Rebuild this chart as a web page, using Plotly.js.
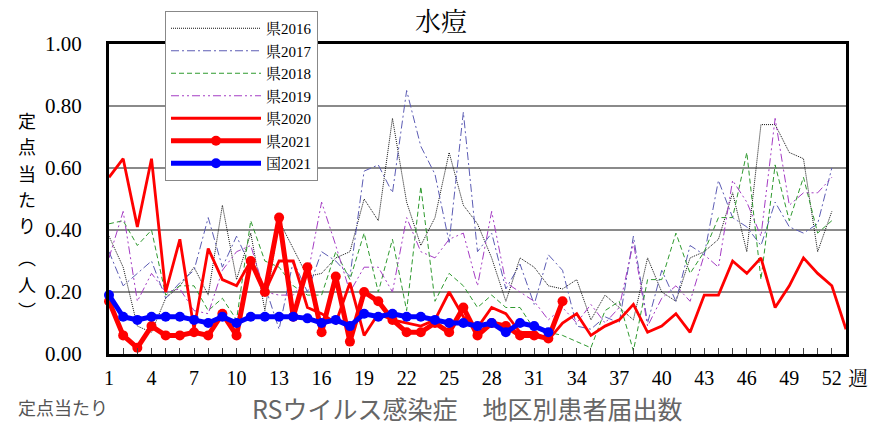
<!DOCTYPE html>
<html>
<head>
<meta charset="utf-8">
<script src="https://cdn.plot.ly/plotly-3.0.1.min.js"></script>
<style>html,body{margin:0;padding:0;background:#fff;}#chart{width:870px;height:425px;}</style>
</head>
<body>
<div id="chart"></div>
<script>
// ---- data ----
var weeks53 = [1,2,3,4,5,6,7,8,9,10,11,12,13,14,15,16,17,18,19,20,21,22,23,24,25,26,27,28,29,30,31,32,33,34,35,36,37,38,39,40,41,42,43,44,45,46,47,48,49,50,51,52,53];
var tickWeeks = [1,4,7,10,13,16,19,22,25,28,31,34,37,40,43,46,49,52];
var tickLabels = ['1','4','7','10','13','16','19','22','25','28','31','34','37','40','43','46','49','52'];

var pref2016 = [0.38,0.28,0.09,0.07,0.18,0.22,0.28,0.19,0.48,0.24,0.39,0.14,0.43,0.34,0.25,0.26,0.31,0.33,0.50,0.43,0.76,0.49,0.35,0.44,0.65,0.48,0.42,0.31,0.17,0.31,0.28,0.22,0.21,0.24,0.11,0.19,0.15,0.11,0.31,0.20,0.17,0.31,0.33,0.37,0.52,0.33,0.74,0.74,0.65,0.63,0.33,0.46];
var pref2017 = [0.33,0.22,0.26,0.30,0.18,0.23,0.27,0.44,0.28,0.38,0.28,0.22,0.08,0.30,0.20,0.33,0.30,0.25,0.59,0.61,0.52,0.85,0.67,0.58,0.36,0.78,0.33,0.39,0.21,0.29,0.16,0.32,0.27,0.09,0.08,0.12,0.10,0.38,0.10,0.27,0.17,0.35,0.32,0.56,0.44,0.41,0.35,0.49,0.41,0.39,0.42,0.60];
var pref2018 = [0.42,0.43,0.35,0.40,0.19,0.22,0.22,0.14,0.18,0.11,0.43,0.30,0.28,0.22,0.19,0.19,0.33,0.24,0.39,0.20,0.37,0.14,0.54,0.17,0.26,0.22,0.15,0.19,0.15,0.15,0.08,0.07,0.06,0.04,0.02,0.14,0.17,0.01,0.24,0.24,0.39,0.26,0.33,0.44,0.44,0.65,0.24,0.61,0.43,0.57,0.39,0.43];
var pref2019 = [0.31,0.46,0.17,0.26,0.20,0.21,0.14,0.13,0.27,0.33,0.35,0.20,0.19,0.19,0.25,0.49,0.35,0.20,0.28,0.28,0.20,0.44,0.33,0.31,0.37,0.39,0.22,0.46,0.23,0.20,0.17,0.11,0.15,0.10,0.16,0.10,0.15,0.36,0.09,0.18,0.22,0.17,0.32,0.28,0.56,0.49,0.38,0.76,0.48,0.52,0.52,0.57];
var pref2020 = [0.57,0.63,0.41,0.63,0.20,0.37,0.08,0.34,0.24,0.22,0.30,0.20,0.30,0.30,0.15,0.13,0.10,0.23,0.06,0.13,0.11,0.10,0.09,0.11,0.20,0.12,0.085,0.15,0.13,0.07,0.07,0.045,0.10,0.13,0.06,0.09,0.11,0.16,0.07,0.09,0.13,0.07,0.19,0.19,0.30,0.26,0.31,0.15,0.22,0.31,0.26,0.22,0.08];
var pref2021 = [0.17,0.06,0.02,0.09,0.06,0.06,0.07,0.06,0.13,0.06,0.30,0.20,0.44,0.12,0.28,0.07,0.25,0.04,0.20,0.17,0.11,0.07,0.07,0.10,0.07,0.15,0.06,0.10,0.09,0.06,0.06,0.05,0.17];
var nation2021 = [0.19,0.12,0.11,0.12,0.12,0.12,0.11,0.10,0.12,0.10,0.12,0.12,0.12,0.12,0.115,0.10,0.11,0.09,0.13,0.12,0.13,0.12,0.12,0.11,0.10,0.10,0.09,0.10,0.07,0.10,0.09,0.07];

var seriesNames = ['県2016','県2017','県2018','県2019','県2020','県2021','国2021'];
var yTitleChars = ['定','点','当','た','り','︵','人','︶'];

// ---- layout helpers (pixel -> paper) ----
var L = 109, R = 846, T = 43, B = 354;
function px(x){ return (x - L) / (R - L); }
function py(y){ return (B - y) / (B - T); }

var serif = "'Liberation Serif', 'Noto Serif CJK JP', 'Noto Sans CJK JP', serif";
var sans = "'Noto Sans CJK JP', 'Noto Sans', sans-serif";

function sliceWeeks(arr){ return weeks53.slice(0, arr.length); }

var traces = [
  {x: sliceWeeks(pref2016), y: pref2016, name: seriesNames[0], mode:'lines', line:{color:'#111111', width:1, dash:'1px,1px'}},
  {x: sliceWeeks(pref2017), y: pref2017, name: seriesNames[1], mode:'lines', line:{color:'#5c5cb4', width:1, dash:'8px,3px,2px,3px'}},
  {x: sliceWeeks(pref2018), y: pref2018, name: seriesNames[2], mode:'lines', line:{color:'#2f9a2f', width:1, dash:'5px,3px'}},
  {x: sliceWeeks(pref2019), y: pref2019, name: seriesNames[3], mode:'lines', line:{color:'#a53cc4', width:1, dash:'8px,3px,2px,3px,2px,3px'}},
  {x: sliceWeeks(pref2020), y: pref2020, name: seriesNames[4], mode:'lines', line:{color:'#ff0000', width:2.8}},
  {x: sliceWeeks(pref2021), y: pref2021, name: seriesNames[5], mode:'lines+markers', line:{color:'#ff0000', width:5}, marker:{color:'#ff0000', size:10}, cliponaxis:false},
  {x: sliceWeeks(nation2021), y: nation2021, name: seriesNames[6], mode:'lines+markers', line:{color:'#0000ff', width:5}, marker:{color:'#0000ff', size:10}, cliponaxis:false}
];

// vertical y-axis title, one character per annotation
var yTitlePos = [119, 145.5, 172, 198.5, 225, 257, 283.5, 310];
var annotations = yTitleChars.map(function(ch, i){
  return {text: ch, x: px(27), y: py(yTitlePos[i]), xref:'paper', yref:'paper', showarrow:false,
          font:{family:sans, size:18, color:'#000'}, xanchor:'center', yanchor:'middle'};
});
annotations = annotations.concat([
  {text:'週', x:px(858), y:py(379), xref:'paper', yref:'paper', showarrow:false, font:{family:serif, size:20, color:'#000'}, xanchor:'center', yanchor:'middle'},
  {text:'定点当たり', x:px(63), y:py(407), xref:'paper', yref:'paper', showarrow:false, font:{family:sans, size:18, color:'#555'}, xanchor:'center', yanchor:'middle'},
  {text:'RSウイルス感染症　地区別患者届出数', x:px(467), y:py(408.5), xref:'paper', yref:'paper', showarrow:false, font:{family:sans, size:25, color:'#666'}, xanchor:'center', yanchor:'middle'}
]);

var layout = {
  width: 870, height: 425,
  margin: {l: L, r: 870 - R, t: T, b: 425 - B, pad: 0},
  paper_bgcolor: '#fff', plot_bgcolor: '#fff',
  title: {text: '水痘', font: {family: serif, size: 26, color: '#000'}, x: 441/870, xanchor: 'center', xref: 'container', y: 1 - 22/425, yanchor: 'middle', yref: 'container'},
  showlegend: true,
  legend: {x: px(165), y: py(11), xanchor: 'left', yanchor: 'top', bgcolor: '#fff', bordercolor: '#888', borderwidth: 1, font: {family: serif, size: 15, color: '#000'}, itemwidth: 90, tracegroupgap: 0},
  xaxis: {range: [1, 53], tickmode: 'array', tickvals: tickWeeks, ticktext: tickLabels, ticks: 'inside', ticklen: 6, tickcolor: '#444', tickwidth: 1,
          minor: {tickmode: 'array', tickvals: weeks53, ticks: 'inside', ticklen: 6, tickcolor: '#444', tickwidth: 1},
          showgrid: false, zeroline: false, showline: true, mirror: true, linecolor: '#000', linewidth: 3,
          tickfont: {family: serif, size: 20, color: '#000'}, ticklabelstandoff: 4, fixedrange: true},
  yaxis: {range: [0, 1], tickmode: 'linear', tick0: 0, dtick: 0.2, tickformat: '.2f', ticks: '',
          showgrid: true, gridcolor: '#8a8a8a', gridwidth: 1.5, zeroline: false, showline: true, mirror: true, linecolor: '#000', linewidth: 3,
          tickfont: {family: serif, size: 21, color: '#000'}, ticklabelstandoff: 20, fixedrange: true},
  annotations: annotations
};

Plotly.newPlot('chart', traces, layout, {displayModeBar: false, staticPlot: true});
</script>
</body>
</html>
